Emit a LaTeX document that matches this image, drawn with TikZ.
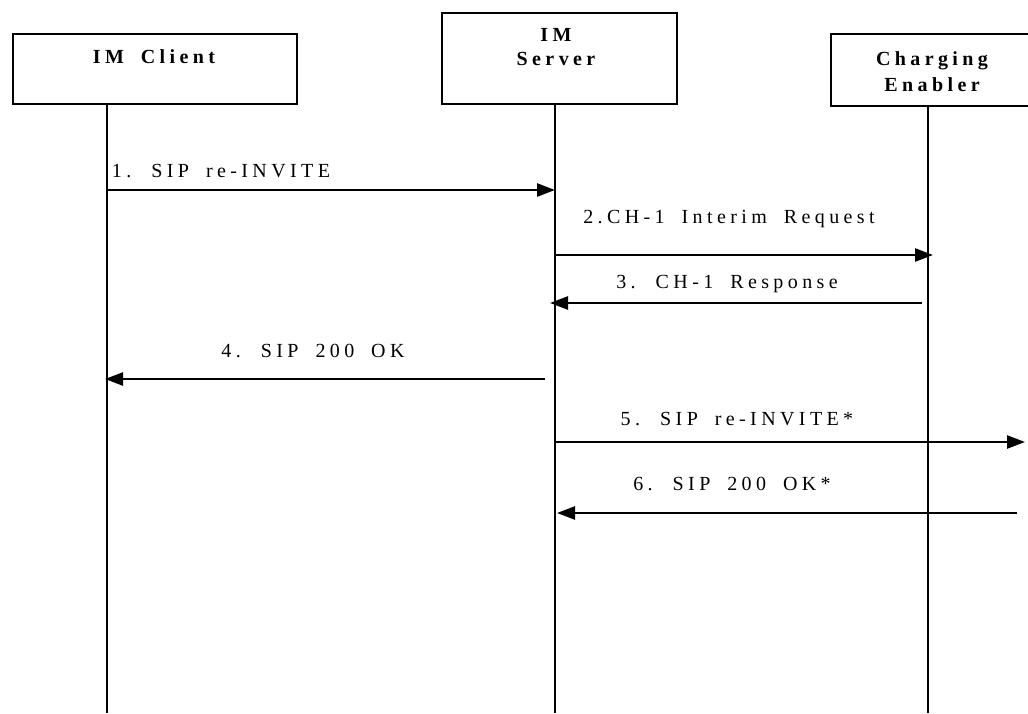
\documentclass[tikz,border=0pt]{standalone}
\usepackage{fontspec}
\setmainfont{Liberation Serif}
\newfontfamily\lblfont[LetterSpace=22,WordSpace=1.8]{Liberation Serif}
\usetikzlibrary{arrows.meta}
\begin{document}
\begin{tikzpicture}[x=1pt,y=-1pt]
\useasboundingbox (0,0) rectangle (1028,713);
\clip (0,0) rectangle (1028,713);
\tikzset{
  actor/.style={draw, line width=2pt, inner sep=0pt, anchor=north west},
  boxtxt/.style={font=\lblfont\bfseries\fontsize{20}{24}\selectfont, align=center, inner sep=0pt},
  life/.style={line width=2pt},
  msg/.style={line width=2.5pt, -{Triangle[length=18pt,width=13pt]}},
  lbl/.style={font=\lblfont\fontsize{20}{24}\selectfont, inner sep=0pt},
}
% actor boxes
\node[actor, minimum width=284pt, minimum height=70pt] (client) at (12,33) {};
\node[boxtxt] (clientT) at (154,57) {IM Client};
\node[actor, minimum width=235pt, minimum height=91pt] (server) at (441,12) {};
\node[boxtxt] (serverT) at (556,47) {IM\\Server};
\node[actor, minimum width=220pt, minimum height=72pt] (charging) at (830,33) {};
\node[boxtxt] (chargingT) at (932,72) {Charging\\[2pt]Enabler};
% lifelines
\coordinate (l1t) at (107,103); \coordinate (l1b) at (107,713);
\coordinate (l2t) at (555,103); \coordinate (l2b) at (555,713);
\coordinate (l3t) at (928,105); \coordinate (l3b) at (928,713);
\draw[life] (l1t) -- (l1b);
\draw[life] (l2t) -- (l2b);
\draw[life] (l3t) -- (l3b);
% message end points
\coordinate (m1a) at (107,190); \coordinate (m1b) at (555,190);
\coordinate (m2a) at (555,255); \coordinate (m2b) at (933,255);
\coordinate (m3a) at (922,303); \coordinate (m3b) at (550,303);
\coordinate (m4a) at (545,379); \coordinate (m4b) at (105,379);
\coordinate (m5a) at (556,442); \coordinate (m5b) at (1025,442);
\coordinate (m6a) at (1017,513); \coordinate (m6b) at (557,513);
\draw[msg] (m1a) -- (m1b);
\draw[msg] (m2a) -- (m2b);
\draw[msg] (m3a) -- (m3b);
\draw[msg] (m4a) -- (m4b);
\draw[msg] (m5a) -- (m5b);
\draw[msg] (m6a) -- (m6b);
% labels
\node[lbl] (t1) at (221,171) {1. SIP re-INVITE};
\node[lbl] (t2) at (729,219) {2.CH-1 Interim Request};
\node[lbl] (t3) at (727,284) {3. CH-1 Response};
\node[lbl] (t4) at (313,351) {4. SIP 200 OK};
\node[lbl] (t5) at (737,419) {5. SIP re-INVITE*};
\node[lbl] (t6) at (732,484) {6. SIP 200 OK*};
\end{tikzpicture}
\end{document}
